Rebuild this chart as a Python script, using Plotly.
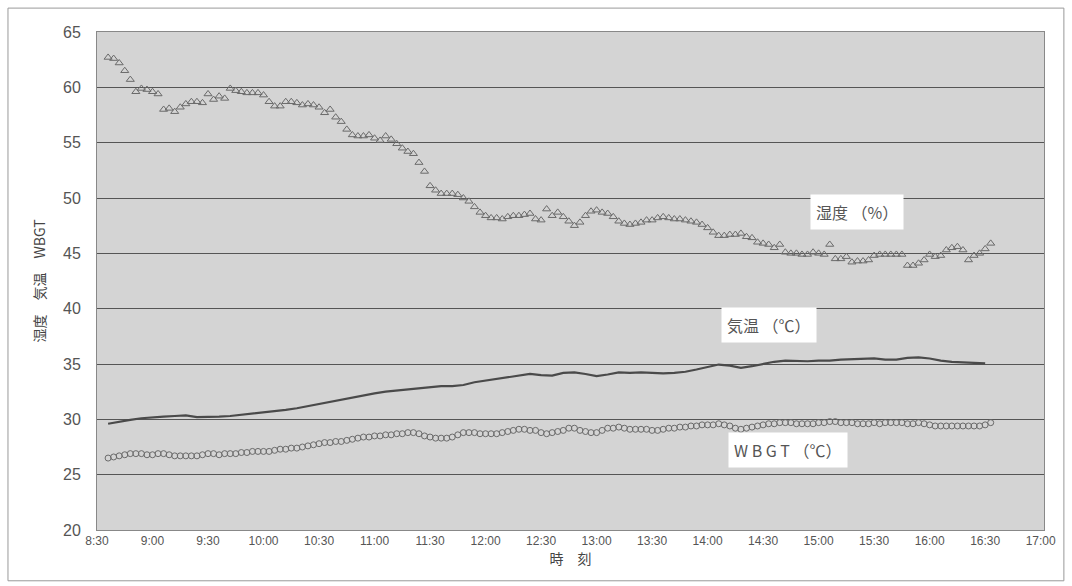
import plotly.graph_objects as go

# ---- data ----
tick_labels = ["8:30", "9:00", "9:30", "10:00", "10:30", "11:00", "11:30", "12:00",
               "12:30", "13:00", "13:30", "14:00", "14:30", "15:00", "15:30", "16:00",
               "16:30", "17:00"]

# humidity (%), sampled every 3 minutes from 8:36
humidity = [62.7, 62.6, 62.2, 61.5, 60.7, 59.6, 59.9, 59.8, 59.6, 59.4,
            58.0, 58.1, 57.8, 58.2, 58.5, 58.7, 58.7, 58.6, 59.4, 58.9,
            59.2, 59.0, 59.9, 59.7, 59.6, 59.5, 59.5, 59.5, 59.3, 58.7,
            58.3, 58.3, 58.7, 58.7, 58.6, 58.4, 58.5, 58.4, 58.2, 57.7,
            58.0, 57.3, 56.9, 56.2, 55.7, 55.6, 55.6, 55.7, 55.4, 55.2,
            55.6, 55.3, 54.9, 54.5, 54.2, 54.0, 53.2, 52.4, 51.1, 50.7,
            50.4, 50.4, 50.4, 50.3, 50.0, 49.7, 49.2, 48.7, 48.4, 48.2,
            48.2, 48.1, 48.3, 48.4, 48.4, 48.5, 48.6, 48.1, 48.0, 49.0,
            48.4, 48.7, 48.3, 47.9, 47.5, 47.8, 48.4, 48.8, 48.9, 48.7,
            48.6, 48.3, 47.9, 47.7, 47.6, 47.7, 47.8, 48.0, 48.0, 48.2,
            48.3, 48.2, 48.1, 48.1, 48.0, 47.9, 47.8, 47.6, 47.3, 46.9,
            46.6, 46.6, 46.7, 46.7, 46.8, 46.5, 46.4, 46.0, 45.9, 45.8,
            45.5, 45.8, 45.1, 45.0, 45.0, 44.9, 44.9, 45.1, 45.0, 44.9,
            45.8, 44.5, 44.5, 44.7, 44.2, 44.3, 44.3, 44.4, 44.8, 44.9,
            44.9, 44.9, 44.9, 44.9, 43.9, 43.9, 44.1, 44.4, 44.9, 44.7,
            44.8, 45.3, 45.5, 45.6, 45.3, 44.4, 44.8, 45.0, 45.4, 45.9]

# WBGT (degC), sampled every 3 minutes from 8:36
wbgt = [26.5, 26.6, 26.7, 26.8, 26.9, 26.9, 26.9, 26.8, 26.8, 26.9,
        26.9, 26.8, 26.7, 26.7, 26.7, 26.7, 26.7, 26.8, 26.9, 26.9,
        26.8, 26.9, 26.9, 26.9, 27.0, 27.0, 27.1, 27.1, 27.1, 27.1,
        27.2, 27.3, 27.3, 27.4, 27.4, 27.5, 27.6, 27.7, 27.8, 27.9,
        27.9, 28.0, 28.0, 28.1, 28.2, 28.3, 28.4, 28.4, 28.5, 28.5,
        28.6, 28.6, 28.7, 28.7, 28.8, 28.8, 28.7, 28.5, 28.4, 28.3,
        28.3, 28.3, 28.4, 28.6, 28.8, 28.8, 28.8, 28.7, 28.7, 28.7,
        28.7, 28.8, 28.9, 29.0, 29.1, 29.1, 29.0, 29.0, 28.8, 28.7,
        28.8, 28.9, 29.0, 29.2, 29.2, 29.0, 28.9, 28.8, 28.8, 29.0,
        29.2, 29.2, 29.3, 29.2, 29.1, 29.1, 29.1, 29.1, 29.0, 29.0,
        29.1, 29.2, 29.2, 29.3, 29.3, 29.4, 29.4, 29.5, 29.5, 29.5,
        29.6, 29.5, 29.4, 29.2, 29.1, 29.2, 29.3, 29.4, 29.5, 29.6,
        29.6, 29.7, 29.7, 29.7, 29.6, 29.6, 29.6, 29.6, 29.7, 29.7,
        29.8, 29.8, 29.7, 29.7, 29.7, 29.6, 29.6, 29.6, 29.7, 29.6,
        29.7, 29.7, 29.7, 29.7, 29.6, 29.6, 29.7, 29.6, 29.5, 29.4,
        29.4, 29.4, 29.4, 29.4, 29.4, 29.4, 29.4, 29.4, 29.5, 29.7]

# air temperature (degC), sampled every 6 minutes from 8:36
air_temp = [29.6, 29.8, 29.95, 30.1, 30.2, 30.25, 30.3, 30.35, 30.2, 30.2,
            30.25, 30.3, 30.4, 30.5, 30.6, 30.7, 30.85, 31.0, 31.2, 31.4,
            31.6, 31.8, 32.0, 32.2, 32.35, 32.5, 32.6, 32.7, 32.85, 32.95,
            33.0, 33.0, 33.1, 33.35, 33.5, 33.7, 33.85, 33.95, 34.1, 34.0,
            33.95, 34.2, 34.25, 34.1, 33.9, 34.05, 34.25, 34.2, 34.25, 34.2,
            34.15, 34.2, 34.3, 34.5, 34.75, 34.95, 34.85, 34.65, 34.8, 35.0,
            35.2, 35.3, 35.25, 35.25, 35.3, 35.3, 35.4, 35.45, 35.5, 35.5,
            35.4, 35.4, 35.55, 35.6, 35.5, 35.3, 35.2, 35.15, 35.1, 35.05]

START_H = 8 + 36 / 60.0
t3 = [START_H + 3 * i / 60.0 for i in range(len(humidity))]
tw = [START_H + 3 * i / 60.0 for i in range(len(wbgt))]
t6 = [START_H + 6 * i / 60.0 for i in range(len(air_temp))]
tick_vals = [8.5 + 0.5 * i for i in range(len(tick_labels))]

FONT = "Liberation Sans, Arial, Noto Sans CJK JP, sans-serif"
JP = "Noto Sans CJK JP, sans-serif"
INK = "#555555"

fig = go.Figure()
fig.add_trace(go.Scatter(x=t3, y=humidity, mode="markers",
                         marker=dict(symbol="triangle-up-open", size=7,
                                     color="#6a6a6a", line=dict(width=1)),
                         showlegend=False))
fig.add_trace(go.Scatter(x=t6, y=air_temp, mode="lines",
                         line=dict(color="#4a4a4a", width=2.2),
                         showlegend=False))
fig.add_trace(go.Scatter(x=tw, y=wbgt, mode="markers",
                         marker=dict(symbol="circle-open", size=6,
                                     color="#6a6a6a", line=dict(width=1)),
                         showlegend=False))

ann_style = dict(showarrow=False, bgcolor="white", borderpad=5,
                 font=dict(family=JP, size=16, color="#555555"))
fig.add_annotation(x=15.35, y=48.7, text="湿度 （%）", **ann_style)
fig.add_annotation(x=14.55, y=38.5, text="気温 （℃）", **ann_style)
fig.add_annotation(x=14.72, y=27.2, text="W B G T （℃）", **ann_style)

fig.update_layout(
    width=1072, height=586,
    margin=dict(l=97, r=28, t=32, b=56),
    paper_bgcolor="white",
    plot_bgcolor="#d4d4d4",
    font=dict(family=FONT, color=INK),
    shapes=[dict(type="rect", xref="paper", yref="paper",
                 x0=-0.094, y0=-0.102, x1=1.021, y1=1.048,
                 line=dict(color="#999999", width=1), layer="below")],
)
fig.update_xaxes(range=[8.5, 17.03], tickvals=tick_vals, ticktext=tick_labels,
                 showgrid=False, zeroline=False, showline=True, mirror=True,
                 linecolor="#888888", linewidth=1, ticks="",
                 tickfont=dict(size=12, color="#555555"),
                 title=dict(text="時　刻", font=dict(family=JP, size=14, color="#444444"),
                            standoff=6))
fig.update_yaxes(range=[20, 65], dtick=5, tick0=20,
                 showgrid=True, gridcolor="#555555", gridwidth=1,
                 zeroline=False, showline=True, mirror=True,
                 linecolor="#888888", linewidth=1, ticks="",
                 ticklabelstandoff=12,
                 tickfont=dict(size=16, color="#555555"),
                 title=dict(text="湿度　気温　WBGT",
                            font=dict(family=JP, size=14, color="#444444"),
                            standoff=14))

fig.write_html("out.html")
